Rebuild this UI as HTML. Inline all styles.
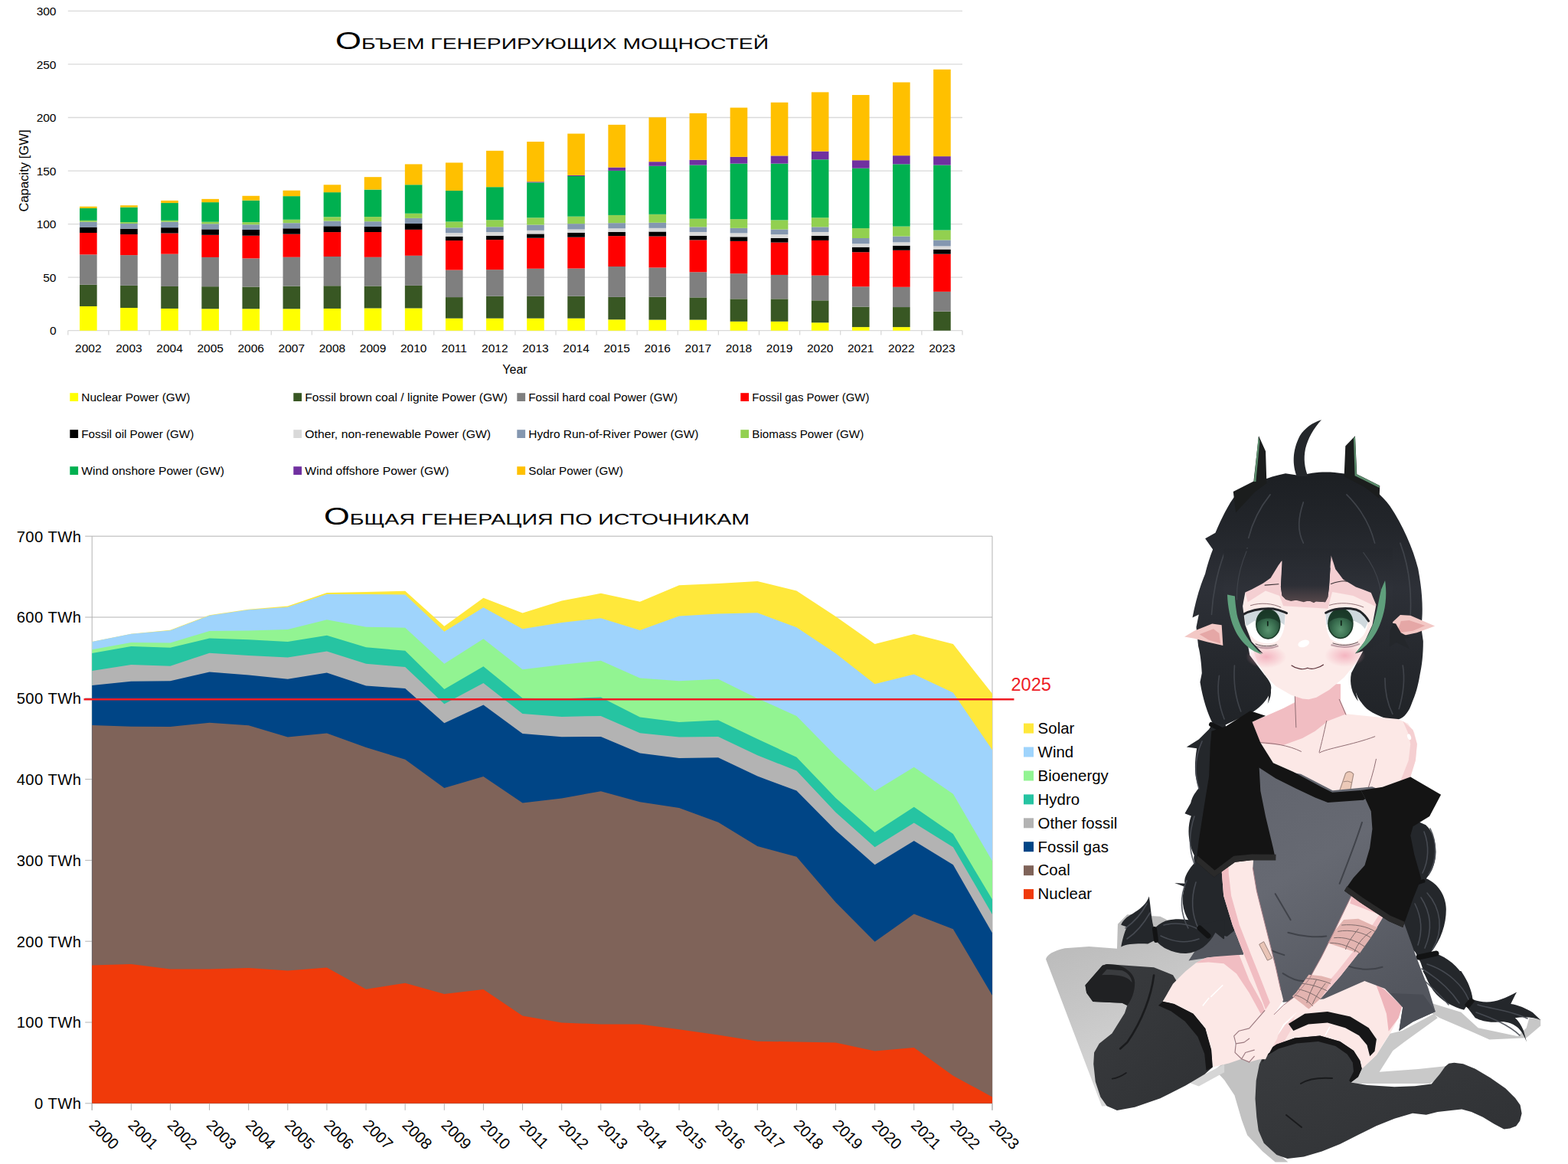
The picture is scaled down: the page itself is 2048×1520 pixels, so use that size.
<!DOCTYPE html>
<html><head><meta charset="utf-8"><title>chart</title>
<style>
html,body{margin:0;padding:0;background:#fff;}
body{width:2048px;height:1520px;position:relative;overflow:hidden;font-family:"Liberation Sans",sans-serif;}
svg{display:block}
</style></head><body>
<svg id="charts" width="2048" height="1520" viewBox="0 0 2048 1520" style="position:absolute;left:0;top:0">
<g font-family="Liberation Sans, sans-serif" fill="#000">
<line x1="88.8" y1="14.40" x2="1257" y2="14.40" stroke="#d9d9d9" stroke-width="1.3"/>
<text x="73.5" y="20.00" font-size="15.5" text-anchor="end">300</text>
<line x1="88.8" y1="83.95" x2="1257" y2="83.95" stroke="#d9d9d9" stroke-width="1.3"/>
<text x="73.5" y="89.55" font-size="15.5" text-anchor="end">250</text>
<line x1="88.8" y1="153.50" x2="1257" y2="153.50" stroke="#d9d9d9" stroke-width="1.3"/>
<text x="73.5" y="159.10" font-size="15.5" text-anchor="end">200</text>
<line x1="88.8" y1="223.05" x2="1257" y2="223.05" stroke="#d9d9d9" stroke-width="1.3"/>
<text x="73.5" y="228.65" font-size="15.5" text-anchor="end">150</text>
<line x1="88.8" y1="292.60" x2="1257" y2="292.60" stroke="#d9d9d9" stroke-width="1.3"/>
<text x="73.5" y="298.20" font-size="15.5" text-anchor="end">100</text>
<line x1="88.8" y1="362.15" x2="1257" y2="362.15" stroke="#d9d9d9" stroke-width="1.3"/>
<text x="73.5" y="367.75" font-size="15.5" text-anchor="end">50</text>
<line x1="88.8" y1="431.70" x2="1257" y2="431.70" stroke="#d9d9d9" stroke-width="1.3"/>
<text x="73.5" y="437.30" font-size="15.5" text-anchor="end">0</text>
<line x1="88.80" y1="431.7" x2="88.80" y2="437.5" stroke="#d9d9d9" stroke-width="1.3"/>
<line x1="141.90" y1="431.7" x2="141.90" y2="437.5" stroke="#d9d9d9" stroke-width="1.3"/>
<line x1="195.00" y1="431.7" x2="195.00" y2="437.5" stroke="#d9d9d9" stroke-width="1.3"/>
<line x1="248.10" y1="431.7" x2="248.10" y2="437.5" stroke="#d9d9d9" stroke-width="1.3"/>
<line x1="301.20" y1="431.7" x2="301.20" y2="437.5" stroke="#d9d9d9" stroke-width="1.3"/>
<line x1="354.30" y1="431.7" x2="354.30" y2="437.5" stroke="#d9d9d9" stroke-width="1.3"/>
<line x1="407.40" y1="431.7" x2="407.40" y2="437.5" stroke="#d9d9d9" stroke-width="1.3"/>
<line x1="460.50" y1="431.7" x2="460.50" y2="437.5" stroke="#d9d9d9" stroke-width="1.3"/>
<line x1="513.60" y1="431.7" x2="513.60" y2="437.5" stroke="#d9d9d9" stroke-width="1.3"/>
<line x1="566.70" y1="431.7" x2="566.70" y2="437.5" stroke="#d9d9d9" stroke-width="1.3"/>
<line x1="619.80" y1="431.7" x2="619.80" y2="437.5" stroke="#d9d9d9" stroke-width="1.3"/>
<line x1="672.90" y1="431.7" x2="672.90" y2="437.5" stroke="#d9d9d9" stroke-width="1.3"/>
<line x1="726.00" y1="431.7" x2="726.00" y2="437.5" stroke="#d9d9d9" stroke-width="1.3"/>
<line x1="779.10" y1="431.7" x2="779.10" y2="437.5" stroke="#d9d9d9" stroke-width="1.3"/>
<line x1="832.20" y1="431.7" x2="832.20" y2="437.5" stroke="#d9d9d9" stroke-width="1.3"/>
<line x1="885.30" y1="431.7" x2="885.30" y2="437.5" stroke="#d9d9d9" stroke-width="1.3"/>
<line x1="938.40" y1="431.7" x2="938.40" y2="437.5" stroke="#d9d9d9" stroke-width="1.3"/>
<line x1="991.50" y1="431.7" x2="991.50" y2="437.5" stroke="#d9d9d9" stroke-width="1.3"/>
<line x1="1044.60" y1="431.7" x2="1044.60" y2="437.5" stroke="#d9d9d9" stroke-width="1.3"/>
<line x1="1097.70" y1="431.7" x2="1097.70" y2="437.5" stroke="#d9d9d9" stroke-width="1.3"/>
<line x1="1150.80" y1="431.7" x2="1150.80" y2="437.5" stroke="#d9d9d9" stroke-width="1.3"/>
<line x1="1203.90" y1="431.7" x2="1203.90" y2="437.5" stroke="#d9d9d9" stroke-width="1.3"/>
<line x1="1257.00" y1="431.7" x2="1257.00" y2="437.5" stroke="#d9d9d9" stroke-width="1.3"/>
<rect x="104.05" y="399.96" width="22.6" height="31.74" fill="#ffff00"/>
<rect x="104.05" y="371.75" width="22.6" height="28.21" fill="#385723"/>
<rect x="104.05" y="332.41" width="22.6" height="39.34" fill="#7f7f7f"/>
<rect x="104.05" y="304.02" width="22.6" height="28.39" fill="#ff0000"/>
<rect x="104.05" y="296.60" width="22.6" height="7.42" fill="#000000"/>
<rect x="104.05" y="289.73" width="22.6" height="6.87" fill="#8497b0"/>
<rect x="104.05" y="287.88" width="22.6" height="1.86" fill="#92d050"/>
<rect x="104.05" y="271.92" width="22.6" height="15.96" fill="#00b050"/>
<rect x="104.05" y="269.69" width="22.6" height="2.23" fill="#ffc000"/>
<text x="115.35" y="459.6" font-size="15.5" text-anchor="middle">2002</text>
<rect x="157.15" y="402.00" width="22.6" height="29.70" fill="#ffff00"/>
<rect x="157.15" y="372.86" width="22.6" height="29.13" fill="#385723"/>
<rect x="157.15" y="333.15" width="22.6" height="39.71" fill="#7f7f7f"/>
<rect x="157.15" y="306.06" width="22.6" height="27.09" fill="#ff0000"/>
<rect x="157.15" y="298.64" width="22.6" height="7.42" fill="#000000"/>
<rect x="157.15" y="291.96" width="22.6" height="6.68" fill="#8497b0"/>
<rect x="157.15" y="290.10" width="22.6" height="1.86" fill="#92d050"/>
<rect x="157.15" y="270.62" width="22.6" height="19.48" fill="#00b050"/>
<rect x="157.15" y="268.21" width="22.6" height="2.41" fill="#ffc000"/>
<text x="168.45" y="459.6" font-size="15.5" text-anchor="middle">2003</text>
<rect x="210.25" y="402.92" width="22.6" height="28.78" fill="#ffff00"/>
<rect x="210.25" y="373.98" width="22.6" height="28.95" fill="#385723"/>
<rect x="210.25" y="331.67" width="22.6" height="42.31" fill="#7f7f7f"/>
<rect x="210.25" y="304.58" width="22.6" height="27.09" fill="#ff0000"/>
<rect x="210.25" y="297.15" width="22.6" height="7.42" fill="#000000"/>
<rect x="210.25" y="289.73" width="22.6" height="7.42" fill="#8497b0"/>
<rect x="210.25" y="287.88" width="22.6" height="1.86" fill="#92d050"/>
<rect x="210.25" y="265.05" width="22.6" height="22.82" fill="#00b050"/>
<rect x="210.25" y="261.90" width="22.6" height="3.15" fill="#ffc000"/>
<text x="221.55" y="459.6" font-size="15.5" text-anchor="middle">2004</text>
<rect x="263.35" y="403.30" width="22.6" height="28.40" fill="#ffff00"/>
<rect x="263.35" y="374.16" width="22.6" height="29.13" fill="#385723"/>
<rect x="263.35" y="335.94" width="22.6" height="38.23" fill="#7f7f7f"/>
<rect x="263.35" y="306.80" width="22.6" height="29.13" fill="#ff0000"/>
<rect x="263.35" y="299.38" width="22.6" height="7.42" fill="#000000"/>
<rect x="263.35" y="292.33" width="22.6" height="7.05" fill="#8497b0"/>
<rect x="263.35" y="289.73" width="22.6" height="2.60" fill="#92d050"/>
<rect x="263.35" y="264.12" width="22.6" height="25.61" fill="#00b050"/>
<rect x="263.35" y="259.86" width="22.6" height="4.27" fill="#ffc000"/>
<text x="274.65" y="459.6" font-size="15.5" text-anchor="middle">2005</text>
<rect x="316.45" y="403.30" width="22.6" height="28.40" fill="#ffff00"/>
<rect x="316.45" y="374.53" width="22.6" height="28.76" fill="#385723"/>
<rect x="316.45" y="337.42" width="22.6" height="37.11" fill="#7f7f7f"/>
<rect x="316.45" y="307.73" width="22.6" height="29.69" fill="#ff0000"/>
<rect x="316.45" y="299.94" width="22.6" height="7.79" fill="#000000"/>
<rect x="316.45" y="293.26" width="22.6" height="6.68" fill="#8497b0"/>
<rect x="316.45" y="290.10" width="22.6" height="3.15" fill="#92d050"/>
<rect x="316.45" y="261.71" width="22.6" height="28.39" fill="#00b050"/>
<rect x="316.45" y="255.77" width="22.6" height="5.94" fill="#ffc000"/>
<text x="327.75" y="459.6" font-size="15.5" text-anchor="middle">2006</text>
<rect x="369.55" y="403.30" width="22.6" height="28.40" fill="#ffff00"/>
<rect x="369.55" y="373.61" width="22.6" height="29.69" fill="#385723"/>
<rect x="369.55" y="335.75" width="22.6" height="37.85" fill="#7f7f7f"/>
<rect x="369.55" y="305.69" width="22.6" height="30.06" fill="#ff0000"/>
<rect x="369.55" y="298.27" width="22.6" height="7.42" fill="#000000"/>
<rect x="369.55" y="291.22" width="22.6" height="7.05" fill="#8497b0"/>
<rect x="369.55" y="286.76" width="22.6" height="4.45" fill="#92d050"/>
<rect x="369.55" y="256.14" width="22.6" height="30.62" fill="#00b050"/>
<rect x="369.55" y="248.72" width="22.6" height="7.42" fill="#ffc000"/>
<text x="380.85" y="459.6" font-size="15.5" text-anchor="middle">2007</text>
<rect x="422.65" y="402.92" width="22.6" height="28.78" fill="#ffff00"/>
<rect x="422.65" y="373.23" width="22.6" height="29.69" fill="#385723"/>
<rect x="422.65" y="335.01" width="22.6" height="38.23" fill="#7f7f7f"/>
<rect x="422.65" y="303.09" width="22.6" height="31.92" fill="#ff0000"/>
<rect x="422.65" y="295.30" width="22.6" height="7.79" fill="#000000"/>
<rect x="422.65" y="288.62" width="22.6" height="6.68" fill="#8497b0"/>
<rect x="422.65" y="283.24" width="22.6" height="5.38" fill="#92d050"/>
<rect x="422.65" y="251.13" width="22.6" height="32.10" fill="#00b050"/>
<rect x="422.65" y="241.30" width="22.6" height="9.83" fill="#ffc000"/>
<text x="433.95" y="459.6" font-size="15.5" text-anchor="middle">2008</text>
<rect x="475.75" y="402.50" width="22.6" height="29.20" fill="#ffff00"/>
<rect x="475.75" y="373.49" width="22.6" height="29.01" fill="#385723"/>
<rect x="475.75" y="335.79" width="22.6" height="37.70" fill="#7f7f7f"/>
<rect x="475.75" y="303.03" width="22.6" height="32.76" fill="#ff0000"/>
<rect x="475.75" y="295.92" width="22.6" height="7.11" fill="#000000"/>
<rect x="475.75" y="289.21" width="22.6" height="6.71" fill="#8497b0"/>
<rect x="475.75" y="283.09" width="22.6" height="6.12" fill="#92d050"/>
<rect x="475.75" y="247.57" width="22.6" height="35.53" fill="#00b050"/>
<rect x="475.75" y="231.18" width="22.6" height="16.38" fill="#ffc000"/>
<text x="487.05" y="459.6" font-size="15.5" text-anchor="middle">2009</text>
<rect x="528.85" y="402.50" width="22.6" height="29.20" fill="#ffff00"/>
<rect x="528.85" y="372.89" width="22.6" height="29.61" fill="#385723"/>
<rect x="528.85" y="333.81" width="22.6" height="39.08" fill="#7f7f7f"/>
<rect x="528.85" y="299.87" width="22.6" height="33.95" fill="#ff0000"/>
<rect x="528.85" y="291.97" width="22.6" height="7.89" fill="#000000"/>
<rect x="528.85" y="284.87" width="22.6" height="7.11" fill="#8497b0"/>
<rect x="528.85" y="278.75" width="22.6" height="6.12" fill="#92d050"/>
<rect x="528.85" y="241.25" width="22.6" height="37.50" fill="#00b050"/>
<rect x="528.85" y="214.41" width="22.6" height="26.84" fill="#ffc000"/>
<text x="540.15" y="459.6" font-size="15.5" text-anchor="middle">2010</text>
<rect x="581.95" y="415.72" width="22.6" height="15.98" fill="#ffff00"/>
<rect x="581.95" y="388.09" width="22.6" height="27.63" fill="#385723"/>
<rect x="581.95" y="352.56" width="22.6" height="35.53" fill="#7f7f7f"/>
<rect x="581.95" y="314.08" width="22.6" height="38.49" fill="#ff0000"/>
<rect x="581.95" y="308.75" width="22.6" height="5.33" fill="#000000"/>
<rect x="581.95" y="304.21" width="22.6" height="4.54" fill="#d9d9d9"/>
<rect x="581.95" y="297.30" width="22.6" height="6.91" fill="#8497b0"/>
<rect x="581.95" y="289.41" width="22.6" height="7.89" fill="#92d050"/>
<rect x="581.95" y="248.95" width="22.6" height="40.46" fill="#00b050"/>
<rect x="581.95" y="212.43" width="22.6" height="36.51" fill="#ffc000"/>
<text x="593.25" y="459.6" font-size="15.5" text-anchor="middle">2011</text>
<rect x="635.05" y="415.72" width="22.6" height="15.98" fill="#ffff00"/>
<rect x="635.05" y="386.71" width="22.6" height="29.01" fill="#385723"/>
<rect x="635.05" y="352.17" width="22.6" height="34.54" fill="#7f7f7f"/>
<rect x="635.05" y="313.09" width="22.6" height="39.08" fill="#ff0000"/>
<rect x="635.05" y="307.76" width="22.6" height="5.33" fill="#000000"/>
<rect x="635.05" y="303.03" width="22.6" height="4.74" fill="#d9d9d9"/>
<rect x="635.05" y="296.31" width="22.6" height="6.71" fill="#8497b0"/>
<rect x="635.05" y="287.24" width="22.6" height="9.08" fill="#92d050"/>
<rect x="635.05" y="244.21" width="22.6" height="43.03" fill="#00b050"/>
<rect x="635.05" y="196.84" width="22.6" height="47.37" fill="#ffc000"/>
<text x="646.35" y="459.6" font-size="15.5" text-anchor="middle">2012</text>
<rect x="688.15" y="415.72" width="22.6" height="15.98" fill="#ffff00"/>
<rect x="688.15" y="386.71" width="22.6" height="29.01" fill="#385723"/>
<rect x="688.15" y="350.79" width="22.6" height="35.92" fill="#7f7f7f"/>
<rect x="688.15" y="310.72" width="22.6" height="40.07" fill="#ff0000"/>
<rect x="688.15" y="305.39" width="22.6" height="5.33" fill="#000000"/>
<rect x="688.15" y="300.85" width="22.6" height="4.54" fill="#d9d9d9"/>
<rect x="688.15" y="293.55" width="22.6" height="7.30" fill="#8497b0"/>
<rect x="688.15" y="284.28" width="22.6" height="9.28" fill="#92d050"/>
<rect x="688.15" y="238.29" width="22.6" height="45.99" fill="#00b050"/>
<rect x="688.15" y="237.30" width="22.6" height="0.99" fill="#7030a0"/>
<rect x="688.15" y="185.00" width="22.6" height="52.30" fill="#ffc000"/>
<text x="699.45" y="459.6" font-size="15.5" text-anchor="middle">2013</text>
<rect x="741.25" y="415.72" width="22.6" height="15.98" fill="#ffff00"/>
<rect x="741.25" y="386.71" width="22.6" height="29.01" fill="#385723"/>
<rect x="741.25" y="350.59" width="22.6" height="36.12" fill="#7f7f7f"/>
<rect x="741.25" y="309.74" width="22.6" height="40.85" fill="#ff0000"/>
<rect x="741.25" y="303.81" width="22.6" height="5.92" fill="#000000"/>
<rect x="741.25" y="299.47" width="22.6" height="4.34" fill="#d9d9d9"/>
<rect x="741.25" y="292.17" width="22.6" height="7.30" fill="#8497b0"/>
<rect x="741.25" y="282.70" width="22.6" height="9.47" fill="#92d050"/>
<rect x="741.25" y="230.00" width="22.6" height="52.70" fill="#00b050"/>
<rect x="741.25" y="228.82" width="22.6" height="1.18" fill="#7030a0"/>
<rect x="741.25" y="174.54" width="22.6" height="54.28" fill="#ffc000"/>
<text x="752.55" y="459.6" font-size="15.5" text-anchor="middle">2014</text>
<rect x="794.35" y="417.30" width="22.6" height="14.40" fill="#ffff00"/>
<rect x="794.35" y="387.89" width="22.6" height="29.41" fill="#385723"/>
<rect x="794.35" y="348.02" width="22.6" height="39.87" fill="#7f7f7f"/>
<rect x="794.35" y="308.16" width="22.6" height="39.87" fill="#ff0000"/>
<rect x="794.35" y="302.83" width="22.6" height="5.33" fill="#000000"/>
<rect x="794.35" y="298.29" width="22.6" height="4.54" fill="#d9d9d9"/>
<rect x="794.35" y="291.18" width="22.6" height="7.11" fill="#8497b0"/>
<rect x="794.35" y="280.92" width="22.6" height="10.26" fill="#92d050"/>
<rect x="794.35" y="222.89" width="22.6" height="58.03" fill="#00b050"/>
<rect x="794.35" y="218.55" width="22.6" height="4.34" fill="#7030a0"/>
<rect x="794.35" y="162.89" width="22.6" height="55.66" fill="#ffc000"/>
<text x="805.65" y="459.6" font-size="15.5" text-anchor="middle">2015</text>
<rect x="847.45" y="417.61" width="22.6" height="14.09" fill="#ffff00"/>
<rect x="847.45" y="387.67" width="22.6" height="29.94" fill="#385723"/>
<rect x="847.45" y="349.45" width="22.6" height="38.22" fill="#7f7f7f"/>
<rect x="847.45" y="308.56" width="22.6" height="40.90" fill="#ff0000"/>
<rect x="847.45" y="302.47" width="22.6" height="6.09" fill="#000000"/>
<rect x="847.45" y="297.85" width="22.6" height="4.63" fill="#d9d9d9"/>
<rect x="847.45" y="290.79" width="22.6" height="7.06" fill="#8497b0"/>
<rect x="847.45" y="279.83" width="22.6" height="10.95" fill="#92d050"/>
<rect x="847.45" y="216.79" width="22.6" height="63.05" fill="#00b050"/>
<rect x="847.45" y="211.19" width="22.6" height="5.60" fill="#7030a0"/>
<rect x="847.45" y="153.25" width="22.6" height="57.94" fill="#ffc000"/>
<text x="858.75" y="459.6" font-size="15.5" text-anchor="middle">2016</text>
<rect x="900.55" y="417.61" width="22.6" height="14.09" fill="#ffff00"/>
<rect x="900.55" y="388.40" width="22.6" height="29.21" fill="#385723"/>
<rect x="900.55" y="355.30" width="22.6" height="33.11" fill="#7f7f7f"/>
<rect x="900.55" y="313.43" width="22.6" height="41.87" fill="#ff0000"/>
<rect x="900.55" y="307.83" width="22.6" height="5.60" fill="#000000"/>
<rect x="900.55" y="302.96" width="22.6" height="4.87" fill="#d9d9d9"/>
<rect x="900.55" y="296.39" width="22.6" height="6.57" fill="#8497b0"/>
<rect x="900.55" y="285.68" width="22.6" height="10.71" fill="#92d050"/>
<rect x="900.55" y="215.57" width="22.6" height="70.11" fill="#00b050"/>
<rect x="900.55" y="208.75" width="22.6" height="6.82" fill="#7030a0"/>
<rect x="900.55" y="147.90" width="22.6" height="60.86" fill="#ffc000"/>
<text x="911.85" y="459.6" font-size="15.5" text-anchor="middle">2017</text>
<rect x="953.65" y="419.81" width="22.6" height="11.89" fill="#ffff00"/>
<rect x="953.65" y="390.35" width="22.6" height="29.45" fill="#385723"/>
<rect x="953.65" y="357.24" width="22.6" height="33.11" fill="#7f7f7f"/>
<rect x="953.65" y="314.89" width="22.6" height="42.36" fill="#ff0000"/>
<rect x="953.65" y="309.29" width="22.6" height="5.60" fill="#000000"/>
<rect x="953.65" y="304.42" width="22.6" height="4.87" fill="#d9d9d9"/>
<rect x="953.65" y="297.85" width="22.6" height="6.57" fill="#8497b0"/>
<rect x="953.65" y="286.16" width="22.6" height="11.68" fill="#92d050"/>
<rect x="953.65" y="213.62" width="22.6" height="72.54" fill="#00b050"/>
<rect x="953.65" y="204.86" width="22.6" height="8.76" fill="#7030a0"/>
<rect x="953.65" y="140.59" width="22.6" height="64.26" fill="#ffc000"/>
<text x="964.95" y="459.6" font-size="15.5" text-anchor="middle">2018</text>
<rect x="1006.75" y="419.81" width="22.6" height="11.89" fill="#ffff00"/>
<rect x="1006.75" y="390.35" width="22.6" height="29.45" fill="#385723"/>
<rect x="1006.75" y="358.95" width="22.6" height="31.40" fill="#7f7f7f"/>
<rect x="1006.75" y="316.59" width="22.6" height="42.36" fill="#ff0000"/>
<rect x="1006.75" y="310.99" width="22.6" height="5.60" fill="#000000"/>
<rect x="1006.75" y="306.12" width="22.6" height="4.87" fill="#d9d9d9"/>
<rect x="1006.75" y="299.55" width="22.6" height="6.57" fill="#8497b0"/>
<rect x="1006.75" y="287.38" width="22.6" height="12.17" fill="#92d050"/>
<rect x="1006.75" y="213.62" width="22.6" height="73.76" fill="#00b050"/>
<rect x="1006.75" y="203.40" width="22.6" height="10.22" fill="#7030a0"/>
<rect x="1006.75" y="133.78" width="22.6" height="69.62" fill="#ffc000"/>
<text x="1018.05" y="459.6" font-size="15.5" text-anchor="middle">2019</text>
<rect x="1059.85" y="421.27" width="22.6" height="10.43" fill="#ffff00"/>
<rect x="1059.85" y="392.30" width="22.6" height="28.97" fill="#385723"/>
<rect x="1059.85" y="359.68" width="22.6" height="32.62" fill="#7f7f7f"/>
<rect x="1059.85" y="313.91" width="22.6" height="45.76" fill="#ff0000"/>
<rect x="1059.85" y="307.83" width="22.6" height="6.09" fill="#000000"/>
<rect x="1059.85" y="302.96" width="22.6" height="4.87" fill="#d9d9d9"/>
<rect x="1059.85" y="296.39" width="22.6" height="6.57" fill="#8497b0"/>
<rect x="1059.85" y="284.22" width="22.6" height="12.17" fill="#92d050"/>
<rect x="1059.85" y="208.27" width="22.6" height="75.95" fill="#00b050"/>
<rect x="1059.85" y="197.56" width="22.6" height="10.71" fill="#7030a0"/>
<rect x="1059.85" y="120.39" width="22.6" height="77.17" fill="#ffc000"/>
<text x="1071.15" y="459.6" font-size="15.5" text-anchor="middle">2020</text>
<rect x="1112.95" y="427.11" width="22.6" height="4.59" fill="#ffff00"/>
<rect x="1112.95" y="400.57" width="22.6" height="26.53" fill="#385723"/>
<rect x="1112.95" y="374.28" width="22.6" height="26.29" fill="#7f7f7f"/>
<rect x="1112.95" y="329.25" width="22.6" height="45.03" fill="#ff0000"/>
<rect x="1112.95" y="322.68" width="22.6" height="6.57" fill="#000000"/>
<rect x="1112.95" y="318.30" width="22.6" height="4.38" fill="#d9d9d9"/>
<rect x="1112.95" y="310.99" width="22.6" height="7.30" fill="#8497b0"/>
<rect x="1112.95" y="298.09" width="22.6" height="12.90" fill="#92d050"/>
<rect x="1112.95" y="219.71" width="22.6" height="78.38" fill="#00b050"/>
<rect x="1112.95" y="209.24" width="22.6" height="10.47" fill="#7030a0"/>
<rect x="1112.95" y="124.04" width="22.6" height="85.20" fill="#ffc000"/>
<text x="1124.25" y="459.6" font-size="15.5" text-anchor="middle">2021</text>
<rect x="1166.05" y="427.11" width="22.6" height="4.59" fill="#ffff00"/>
<rect x="1166.05" y="401.06" width="22.6" height="26.05" fill="#385723"/>
<rect x="1166.05" y="374.77" width="22.6" height="26.29" fill="#7f7f7f"/>
<rect x="1166.05" y="326.82" width="22.6" height="47.96" fill="#ff0000"/>
<rect x="1166.05" y="320.73" width="22.6" height="6.09" fill="#000000"/>
<rect x="1166.05" y="316.35" width="22.6" height="4.38" fill="#d9d9d9"/>
<rect x="1166.05" y="308.56" width="22.6" height="7.79" fill="#8497b0"/>
<rect x="1166.05" y="295.66" width="22.6" height="12.90" fill="#92d050"/>
<rect x="1166.05" y="214.35" width="22.6" height="81.30" fill="#00b050"/>
<rect x="1166.05" y="203.15" width="22.6" height="11.20" fill="#7030a0"/>
<rect x="1166.05" y="107.49" width="22.6" height="95.67" fill="#ffc000"/>
<text x="1177.35" y="459.6" font-size="15.5" text-anchor="middle">2022</text>
<rect x="1219.15" y="406.66" width="22.6" height="25.04" fill="#385723"/>
<rect x="1219.15" y="380.86" width="22.6" height="25.80" fill="#7f7f7f"/>
<rect x="1219.15" y="331.68" width="22.6" height="49.17" fill="#ff0000"/>
<rect x="1219.15" y="325.60" width="22.6" height="6.09" fill="#000000"/>
<rect x="1219.15" y="321.46" width="22.6" height="4.14" fill="#d9d9d9"/>
<rect x="1219.15" y="313.43" width="22.6" height="8.03" fill="#8497b0"/>
<rect x="1219.15" y="300.53" width="22.6" height="12.90" fill="#92d050"/>
<rect x="1219.15" y="215.57" width="22.6" height="84.96" fill="#00b050"/>
<rect x="1219.15" y="204.13" width="22.6" height="11.44" fill="#7030a0"/>
<rect x="1219.15" y="90.69" width="22.6" height="113.44" fill="#ffc000"/>
<text x="1230.45" y="459.6" font-size="15.5" text-anchor="middle">2023</text>
<text x="672.5" y="488.2" font-size="16" text-anchor="middle">Year</text>
<text transform="translate(36.8,223) rotate(-90)" font-size="15.6" text-anchor="middle" textLength="107" lengthAdjust="spacingAndGlyphs">Capacity [GW]</text>
<rect x="91.3" y="513.2" width="10.8" height="10.8" fill="#ffff00"/>
<text x="106.3" y="523.6" font-size="15.4" textLength="142.2" lengthAdjust="spacingAndGlyphs">Nuclear Power (GW)</text>
<rect x="383.3" y="513.2" width="10.8" height="10.8" fill="#385723"/>
<text x="398.3" y="523.6" font-size="15.4" textLength="264.7" lengthAdjust="spacingAndGlyphs">Fossil brown coal / lignite Power (GW)</text>
<rect x="675.3" y="513.2" width="10.8" height="10.8" fill="#7f7f7f"/>
<text x="690.3" y="523.6" font-size="15.4" textLength="194.7" lengthAdjust="spacingAndGlyphs">Fossil hard coal Power (GW)</text>
<rect x="967.3" y="513.2" width="10.8" height="10.8" fill="#ff0000"/>
<text x="982.3" y="523.6" font-size="15.4" textLength="153.1" lengthAdjust="spacingAndGlyphs">Fossil gas Power (GW)</text>
<rect x="91.3" y="561.2" width="10.8" height="10.8" fill="#000000"/>
<text x="106.3" y="571.6" font-size="15.4" textLength="146.9" lengthAdjust="spacingAndGlyphs">Fossil oil Power (GW)</text>
<rect x="383.3" y="561.2" width="10.8" height="10.8" fill="#d9d9d9"/>
<text x="398.3" y="571.6" font-size="15.4" textLength="242.8" lengthAdjust="spacingAndGlyphs">Other, non-renewable Power (GW)</text>
<rect x="675.3" y="561.2" width="10.8" height="10.8" fill="#8497b0"/>
<text x="690.3" y="571.6" font-size="15.4" textLength="222.2" lengthAdjust="spacingAndGlyphs">Hydro Run-of-River Power (GW)</text>
<rect x="967.3" y="561.2" width="10.8" height="10.8" fill="#92d050"/>
<text x="982.3" y="571.6" font-size="15.4" textLength="145.9" lengthAdjust="spacingAndGlyphs">Biomass Power (GW)</text>
<rect x="91.3" y="609.2" width="10.8" height="10.8" fill="#00b050"/>
<text x="106.3" y="619.6" font-size="15.4" textLength="186.6" lengthAdjust="spacingAndGlyphs">Wind onshore Power (GW)</text>
<rect x="383.3" y="609.2" width="10.8" height="10.8" fill="#7030a0"/>
<text x="398.3" y="619.6" font-size="15.4" textLength="188.1" lengthAdjust="spacingAndGlyphs">Wind offshore Power (GW)</text>
<rect x="675.3" y="609.2" width="10.8" height="10.8" fill="#ffc000"/>
<text x="690.3" y="619.6" font-size="15.4" textLength="123.4" lengthAdjust="spacingAndGlyphs">Solar Power (GW)</text>
</g>
<g font-family="Liberation Sans, sans-serif" fill="#000">
<line x1="111.2" y1="700.20" x2="1296.0" y2="700.20" stroke="#b3b3b3" stroke-width="1"/>
<text x="106.4" y="707.50" font-size="20.2" text-anchor="end" letter-spacing="0.45">700 TWh</text>
<line x1="111.2" y1="806.00" x2="1296.0" y2="806.00" stroke="#b3b3b3" stroke-width="1"/>
<text x="106.4" y="813.30" font-size="20.2" text-anchor="end" letter-spacing="0.45">600 TWh</text>
<line x1="111.2" y1="911.80" x2="1296.0" y2="911.80" stroke="#b3b3b3" stroke-width="1"/>
<text x="106.4" y="919.10" font-size="20.2" text-anchor="end" letter-spacing="0.45">500 TWh</text>
<line x1="111.2" y1="1017.60" x2="1296.0" y2="1017.60" stroke="#b3b3b3" stroke-width="1"/>
<text x="106.4" y="1024.90" font-size="20.2" text-anchor="end" letter-spacing="0.45">400 TWh</text>
<line x1="111.2" y1="1123.40" x2="1296.0" y2="1123.40" stroke="#b3b3b3" stroke-width="1"/>
<text x="106.4" y="1130.70" font-size="20.2" text-anchor="end" letter-spacing="0.45">300 TWh</text>
<line x1="111.2" y1="1229.20" x2="1296.0" y2="1229.20" stroke="#b3b3b3" stroke-width="1"/>
<text x="106.4" y="1236.50" font-size="20.2" text-anchor="end" letter-spacing="0.45">200 TWh</text>
<line x1="111.2" y1="1335.00" x2="1296.0" y2="1335.00" stroke="#b3b3b3" stroke-width="1"/>
<text x="106.4" y="1342.30" font-size="20.2" text-anchor="end" letter-spacing="0.45">100 TWh</text>
<line x1="111.2" y1="1440.80" x2="1296.0" y2="1440.80" stroke="#b3b3b3" stroke-width="1"/>
<text x="106.4" y="1448.10" font-size="20.2" text-anchor="end" letter-spacing="0.45">0 TWh</text>
<line x1="120.2" y1="700.2" x2="120.2" y2="1449.8" stroke="#b3b3b3" stroke-width="1"/>
<line x1="1296.0" y1="700.2" x2="1296.0" y2="1449.8" stroke="#b3b3b3" stroke-width="1"/>
<path d="M120.2,837.9 L171.3,827.7 L222.4,822.8 L273.6,803.3 L324.7,795.7 L375.8,791.6 L426.9,773.9 L478.1,772.9 L529.2,771.7 L580.3,817.7 L631.4,780.7 L682.5,800.4 L733.7,784.5 L784.8,774.8 L835.9,785.7 L887.0,764.2 L938.1,762.0 L989.3,758.9 L1040.4,771.5 L1091.5,805.1 L1142.6,841.1 L1193.8,828.1 L1244.9,841.1 L1296.0,905.8 L1296.0,1440.8 L120.2,1440.8 Z" fill="#ffe83b"/>
<path d="M120.2,837.9 L171.3,827.7 L222.4,823.2 L273.6,803.7 L324.7,796.3 L375.8,792.8 L426.9,776.0 L478.1,776.0 L529.2,776.4 L580.3,824.8 L631.4,793.3 L682.5,821.2 L733.7,813.0 L784.8,807.3 L835.9,822.9 L887.0,804.4 L938.1,801.6 L989.3,800.2 L1040.4,819.3 L1091.5,853.2 L1142.6,893.2 L1193.8,880.5 L1244.9,904.6 L1296.0,979.2 L1296.0,1440.8 L120.2,1440.8 Z" fill="#9fd4fc"/>
<path d="M120.2,848.2 L171.3,839.0 L222.4,839.6 L273.6,824.0 L324.7,823.6 L375.8,822.1 L426.9,809.2 L478.1,818.7 L529.2,819.7 L580.3,866.7 L631.4,834.3 L682.5,874.3 L733.7,867.9 L784.8,862.7 L835.9,885.4 L887.0,889.2 L938.1,886.8 L989.3,912.0 L1040.4,934.9 L1091.5,987.0 L1142.6,1033.0 L1193.8,1001.7 L1244.9,1036.8 L1296.0,1124.3 L1296.0,1440.8 L120.2,1440.8 Z" fill="#92f492"/>
<path d="M120.2,852.9 L171.3,844.1 L222.4,845.7 L273.6,833.6 L324.7,835.3 L375.8,837.9 L426.9,829.7 L478.1,845.3 L529.2,849.8 L580.3,899.9 L631.4,870.3 L682.5,911.7 L733.7,912.4 L784.8,910.5 L835.9,936.6 L887.0,943.0 L938.1,940.6 L989.3,965.0 L1040.4,988.7 L1091.5,1041.9 L1142.6,1087.0 L1193.8,1053.8 L1244.9,1088.9 L1296.0,1174.6 L1296.0,1440.8 L120.2,1440.8 Z" fill="#26c4a2"/>
<path d="M120.2,875.9 L171.3,868.1 L222.4,869.7 L273.6,852.7 L324.7,856.0 L375.8,858.4 L426.9,850.4 L478.1,866.8 L529.2,871.0 L580.3,919.3 L631.4,892.1 L682.5,931.9 L733.7,935.9 L784.8,934.9 L835.9,957.2 L887.0,962.6 L938.1,961.9 L989.3,986.3 L1040.4,1006.5 L1091.5,1060.7 L1142.6,1106.3 L1193.8,1074.5 L1244.9,1106.3 L1296.0,1193.9 L1296.0,1440.8 L120.2,1440.8 Z" fill="#b3b3b3"/>
<path d="M120.2,894.9 L171.3,889.8 L222.4,889.2 L273.6,877.5 L324.7,881.4 L375.8,886.7 L426.9,878.5 L478.1,895.4 L529.2,899.0 L580.3,944.2 L631.4,920.5 L682.5,957.9 L733.7,962.2 L784.8,961.9 L835.9,983.5 L887.0,989.9 L938.1,989.2 L989.3,1013.6 L1040.4,1032.5 L1091.5,1084.2 L1142.6,1129.3 L1193.8,1098.0 L1244.9,1129.3 L1296.0,1218.2 L1296.0,1440.8 L120.2,1440.8 Z" fill="#004586"/>
<path d="M120.2,947.0 L171.3,948.7 L222.4,948.9 L273.6,943.8 L324.7,947.2 L375.8,962.6 L426.9,957.5 L478.1,976.0 L529.2,991.7 L580.3,1029.0 L631.4,1014.0 L682.5,1048.4 L733.7,1042.5 L784.8,1033.2 L835.9,1047.2 L887.0,1055.0 L938.1,1073.7 L989.3,1104.9 L1040.4,1118.8 L1091.5,1178.2 L1142.6,1229.8 L1193.8,1193.4 L1244.9,1213.3 L1296.0,1299.7 L1296.0,1440.8 L120.2,1440.8 Z" fill="#7f6359"/>
<path d="M120.2,1260.5 L171.3,1259.0 L222.4,1265.5 L273.6,1265.5 L324.7,1264.0 L375.8,1267.5 L426.9,1263.5 L478.1,1291.8 L529.2,1283.8 L580.3,1298.0 L631.4,1292.0 L682.5,1326.5 L733.7,1335.5 L784.8,1337.5 L835.9,1337.5 L887.0,1344.2 L938.1,1351.4 L989.3,1359.7 L1040.4,1360.5 L1091.5,1361.4 L1142.6,1372.4 L1193.8,1368.0 L1244.9,1404.7 L1296.0,1432.4 L1296.0,1440.8 L120.2,1440.8 Z" fill="#f03a0a"/>
<line x1="120.20" y1="1440.8" x2="120.20" y2="1449.8" stroke="#b3b3b3" stroke-width="1"/>
<text transform="translate(115.20,1470.60) rotate(45)" font-size="20.4" letter-spacing="-0.2">2000</text>
<line x1="171.32" y1="1440.8" x2="171.32" y2="1449.8" stroke="#b3b3b3" stroke-width="1"/>
<text transform="translate(166.32,1470.60) rotate(45)" font-size="20.4" letter-spacing="-0.2">2001</text>
<line x1="222.44" y1="1440.8" x2="222.44" y2="1449.8" stroke="#b3b3b3" stroke-width="1"/>
<text transform="translate(217.44,1470.60) rotate(45)" font-size="20.4" letter-spacing="-0.2">2002</text>
<line x1="273.57" y1="1440.8" x2="273.57" y2="1449.8" stroke="#b3b3b3" stroke-width="1"/>
<text transform="translate(268.57,1470.60) rotate(45)" font-size="20.4" letter-spacing="-0.2">2003</text>
<line x1="324.69" y1="1440.8" x2="324.69" y2="1449.8" stroke="#b3b3b3" stroke-width="1"/>
<text transform="translate(319.69,1470.60) rotate(45)" font-size="20.4" letter-spacing="-0.2">2004</text>
<line x1="375.81" y1="1440.8" x2="375.81" y2="1449.8" stroke="#b3b3b3" stroke-width="1"/>
<text transform="translate(370.81,1470.60) rotate(45)" font-size="20.4" letter-spacing="-0.2">2005</text>
<line x1="426.93" y1="1440.8" x2="426.93" y2="1449.8" stroke="#b3b3b3" stroke-width="1"/>
<text transform="translate(421.93,1470.60) rotate(45)" font-size="20.4" letter-spacing="-0.2">2006</text>
<line x1="478.05" y1="1440.8" x2="478.05" y2="1449.8" stroke="#b3b3b3" stroke-width="1"/>
<text transform="translate(473.05,1470.60) rotate(45)" font-size="20.4" letter-spacing="-0.2">2007</text>
<line x1="529.17" y1="1440.8" x2="529.17" y2="1449.8" stroke="#b3b3b3" stroke-width="1"/>
<text transform="translate(524.17,1470.60) rotate(45)" font-size="20.4" letter-spacing="-0.2">2008</text>
<line x1="580.30" y1="1440.8" x2="580.30" y2="1449.8" stroke="#b3b3b3" stroke-width="1"/>
<text transform="translate(575.30,1470.60) rotate(45)" font-size="20.4" letter-spacing="-0.2">2009</text>
<line x1="631.42" y1="1440.8" x2="631.42" y2="1449.8" stroke="#b3b3b3" stroke-width="1"/>
<text transform="translate(626.42,1470.60) rotate(45)" font-size="20.4" letter-spacing="-0.2">2010</text>
<line x1="682.54" y1="1440.8" x2="682.54" y2="1449.8" stroke="#b3b3b3" stroke-width="1"/>
<text transform="translate(677.54,1470.60) rotate(45)" font-size="20.4" letter-spacing="-0.2">2011</text>
<line x1="733.66" y1="1440.8" x2="733.66" y2="1449.8" stroke="#b3b3b3" stroke-width="1"/>
<text transform="translate(728.66,1470.60) rotate(45)" font-size="20.4" letter-spacing="-0.2">2012</text>
<line x1="784.78" y1="1440.8" x2="784.78" y2="1449.8" stroke="#b3b3b3" stroke-width="1"/>
<text transform="translate(779.78,1470.60) rotate(45)" font-size="20.4" letter-spacing="-0.2">2013</text>
<line x1="835.90" y1="1440.8" x2="835.90" y2="1449.8" stroke="#b3b3b3" stroke-width="1"/>
<text transform="translate(830.90,1470.60) rotate(45)" font-size="20.4" letter-spacing="-0.2">2014</text>
<line x1="887.03" y1="1440.8" x2="887.03" y2="1449.8" stroke="#b3b3b3" stroke-width="1"/>
<text transform="translate(882.03,1470.60) rotate(45)" font-size="20.4" letter-spacing="-0.2">2015</text>
<line x1="938.15" y1="1440.8" x2="938.15" y2="1449.8" stroke="#b3b3b3" stroke-width="1"/>
<text transform="translate(933.15,1470.60) rotate(45)" font-size="20.4" letter-spacing="-0.2">2016</text>
<line x1="989.27" y1="1440.8" x2="989.27" y2="1449.8" stroke="#b3b3b3" stroke-width="1"/>
<text transform="translate(984.27,1470.60) rotate(45)" font-size="20.4" letter-spacing="-0.2">2017</text>
<line x1="1040.39" y1="1440.8" x2="1040.39" y2="1449.8" stroke="#b3b3b3" stroke-width="1"/>
<text transform="translate(1035.39,1470.60) rotate(45)" font-size="20.4" letter-spacing="-0.2">2018</text>
<line x1="1091.51" y1="1440.8" x2="1091.51" y2="1449.8" stroke="#b3b3b3" stroke-width="1"/>
<text transform="translate(1086.51,1470.60) rotate(45)" font-size="20.4" letter-spacing="-0.2">2019</text>
<line x1="1142.63" y1="1440.8" x2="1142.63" y2="1449.8" stroke="#b3b3b3" stroke-width="1"/>
<text transform="translate(1137.63,1470.60) rotate(45)" font-size="20.4" letter-spacing="-0.2">2020</text>
<line x1="1193.76" y1="1440.8" x2="1193.76" y2="1449.8" stroke="#b3b3b3" stroke-width="1"/>
<text transform="translate(1188.76,1470.60) rotate(45)" font-size="20.4" letter-spacing="-0.2">2021</text>
<line x1="1244.88" y1="1440.8" x2="1244.88" y2="1449.8" stroke="#b3b3b3" stroke-width="1"/>
<text transform="translate(1239.88,1470.60) rotate(45)" font-size="20.4" letter-spacing="-0.2">2022</text>
<line x1="1296.00" y1="1440.8" x2="1296.00" y2="1449.8" stroke="#b3b3b3" stroke-width="1"/>
<text transform="translate(1291.00,1470.60) rotate(45)" font-size="20.4" letter-spacing="-0.2">2023</text>
<line x1="109.5" y1="913.3" x2="1324.5" y2="913.3" stroke="#ee1c25" stroke-width="2.4"/>
<text x="1320.4" y="901.9" font-size="23.6" fill="#ee1c25">2025</text>
<rect x="1337" y="944.6" width="13" height="13" fill="#ffe83b"/>
<text x="1355.6" y="957.8" font-size="20.4" letter-spacing="0.05">Solar</text>
<rect x="1337" y="975.5" width="13" height="13" fill="#9fd4fc"/>
<text x="1355.6" y="988.7" font-size="20.4" letter-spacing="0.05">Wind</text>
<rect x="1337" y="1006.5" width="13" height="13" fill="#92f492"/>
<text x="1355.6" y="1019.7" font-size="20.4" letter-spacing="0.05">Bioenergy</text>
<rect x="1337" y="1037.4" width="13" height="13" fill="#26c4a2"/>
<text x="1355.6" y="1050.6" font-size="20.4" letter-spacing="0.05">Hydro</text>
<rect x="1337" y="1068.3" width="13" height="13" fill="#b3b3b3"/>
<text x="1355.6" y="1081.5" font-size="20.4" letter-spacing="0.05">Other fossil</text>
<rect x="1337" y="1099.2" width="13" height="13" fill="#004586"/>
<text x="1355.6" y="1112.5" font-size="20.4" letter-spacing="0.05">Fossil gas</text>
<rect x="1337" y="1130.2" width="13" height="13" fill="#7f6359"/>
<text x="1355.6" y="1143.4" font-size="20.4" letter-spacing="0.05">Coal</text>
<rect x="1337" y="1161.1" width="13" height="13" fill="#f03a0a"/>
<text x="1355.6" y="1174.3" font-size="20.4" letter-spacing="0.05">Nuclear</text>
</g>
<g font-family="Liberation Sans, sans-serif" fill="#000">
<text x="438" y="64" font-size="20.4" textLength="566" lengthAdjust="spacingAndGlyphs"><tspan font-size="31.5">О</tspan>БЪЕМ ГЕНЕРИРУЮЩИХ МОЩНОСТЕЙ</text>
<text x="423" y="685.4" font-size="20.4" textLength="556" lengthAdjust="spacingAndGlyphs"><tspan font-size="31">О</tspan>БЩАЯ ГЕНЕРАЦИЯ ПО ИСТОЧНИКАМ</text>
</g>
</svg>
<svg id="char" width="2048" height="1520" viewBox="0 0 2048 1520" style="position:absolute;left:0;top:0">
<defs>
<linearGradient id="shA" x1="0" y1="0" x2="0.35" y2="1"><stop offset="0" stop-color="#b6b6b6"/><stop offset="0.5" stop-color="#c6c6c6"/><stop offset="1" stop-color="#dadada"/></linearGradient>
<linearGradient id="bangG" gradientUnits="userSpaceOnUse" x1="0" y1="250" x2="0" y2="525"><stop offset="0" stop-color="#292c33"/><stop offset="0.5" stop-color="#2d2f36"/><stop offset="1" stop-color="#57484b"/></linearGradient>
<radialGradient id="irisG" cx="0.5" cy="0.7" r="0.62"><stop offset="0" stop-color="#5a9470"/><stop offset="0.5" stop-color="#3a6f50"/><stop offset="1" stop-color="#1e4030"/></radialGradient>
<radialGradient id="blushG" cx="0.5" cy="0.5" r="0.5"><stop offset="0" stop-color="#f2a7b6" stop-opacity="0.8"/><stop offset="1" stop-color="#f2a7b6" stop-opacity="0"/></radialGradient>
<linearGradient id="stockG" x1="0" y1="0" x2="1" y2="1"><stop offset="0" stop-color="#3a3c3f"/><stop offset="1" stop-color="#2f3134"/></linearGradient>
<linearGradient id="hairG" gradientUnits="userSpaceOnUse" x1="0" y1="240" x2="0" y2="1250"><stop offset="0" stop-color="#1c1f23"/><stop offset="0.2" stop-color="#22252a"/><stop offset="0.45" stop-color="#2d3037"/><stop offset="0.75" stop-color="#25282d"/><stop offset="1" stop-color="#202327"/></linearGradient>
<linearGradient id="hairF" gradientUnits="userSpaceOnUse" x1="0" y1="-10" x2="0" y2="930"><stop offset="0" stop-color="#22252a"/><stop offset="0.45" stop-color="#2e3138"/><stop offset="1" stop-color="#25282d"/></linearGradient>
<linearGradient id="dressG" gradientUnits="userSpaceOnUse" x1="800" y1="0" x2="1300" y2="900"><stop offset="0" stop-color="#62656e"/><stop offset="0.4" stop-color="#666972"/><stop offset="1" stop-color="#53565e"/></linearGradient>
</defs>

<!-- ===== shadows ===== -->
<g transform="translate(1366,1230) scale(0.16602)">
  <path fill="url(#shA)" d="M0,135 C10,100 60,70 150,50 L340,36 L560,52 L566,-140 L640,-215 L900,-200 L1300,0 L1300,200 L1000,500 L600,600 L400,900 L480,1290 L440,1292 Z"/>
</g>
<g transform="translate(1366,536) scale(0.33301) translate(0,1435.4)">
  <path fill="#c2c2c2" d="M663,1150 L700,1120 L870,1085 L840,1150 L825,1250 L840,1350 L880,1450 L950,1512 L900,1512 L850,1470 L790,1406 L768,1346 L740,1250 L700,1190 Z"/>
  <path fill="#d6d6d6" d="M560,1200 L700,1128 L700,1160 L600,1215 Z"/>
</g>
<g transform="translate(1630,1268) scale(0.18555)">
  <path fill="#c9c9c9" d="M1085,420 L1310,300 L1335,330 L1100,500 L1020,560 L925,710 L1200,690 L1390,670 L1330,765 L1280,792 L720,792 L800,690 L905,590 L1000,440 Z"/>
  <path fill="#c7c7c7" d="M1270,220 L1500,290 L1620,400 L1900,460 L1960,400 L1980,330 L2060,340 L2060,385 L1960,470 L1700,482 L1560,420 L1350,330 L1300,300 Z"/>
</g>

<g transform="translate(1366,536) scale(0.33301) translate(0,1435.4)"><path fill="#53565e" d="M780,540 L640,600 L560,722 L650,709 L775,700 Z"/></g>
<!-- ===== back hair (C coords) ===== -->
<g transform="translate(1366,536) scale(0.33301)">
<path fill="url(#hairG)" d="M745,330 C800,290 870,260 940,247 L1000,256 C1040,243 1100,236 1170,248 C1240,270 1300,310 1350,375 C1400,450 1440,540 1460,620 C1475,700 1482,780 1472,850 L1480,905 C1480,960 1475,1000 1467,1037 C1460,1080 1450,1115 1436,1146 C1425,1180 1405,1205 1384,1211 C1365,1215 1348,1212 1332,1207 C1305,1198 1285,1188 1267,1176 C1250,1162 1235,1145 1223,1124 C1212,1100 1207,1070 1206,1046 L1198,1030 L1240,950 L1290,800 L1290,650 L780,650 L770,800 L800,960 L860,1040 C880,1065 890,1080 880,1105 C868,1135 845,1160 815,1180 L700,1235 L655,1228 C635,1190 615,1130 605,1065 L612,1030 C610,990 605,950 598,925 L590,850 L600,800 L575,812 C585,760 600,700 625,640 C635,600 645,570 655,545 L625,502 L665,480 C690,420 715,370 745,330 Z"/>
<!-- small lock at jaw left / right -->
<path fill="#24272b" d="M860,1040 C885,1075 892,1110 870,1150 C880,1110 870,1080 845,1050 Z"/>
<path fill="#24272b" d="M1198,1030 C1190,1070 1200,1110 1225,1140 C1212,1100 1212,1070 1225,1040 Z"/>
<!-- left braid: segment 1 (beside sleeve) -->
<path fill="#24272b" d="M655,1225 L705,1232 L720,1500 L700,1800 L620,1800 C590,1790 575,1770 582,1745 C560,1700 552,1640 570,1590 L545,1580 L568,1540 C575,1510 590,1495 600,1480 C585,1440 580,1400 592,1325 L552,1320 L600,1290 L640,1250 Z"/>
<!-- segment 2 -->
<path fill="#24272b" d="M585,1772 C560,1800 540,1830 545,1855 L505,1853 L545,1868 C530,1910 535,1960 560,2000 C575,2015 595,2020 612,2022 L700,2060 L780,2080 L760,1900 L700,1780 Z"/>
<g transform="translate(0,1435.4)" fill="#24272b">
  <!-- segment 3 lying + tuft -->
  <path d="M610,580 C580,562 520,552 470,566 C450,574 435,585 425,597 L430,640 C450,670 500,695 550,694 C600,690 640,660 665,612 L700,640 L700,560 Z"/>
  <path d="M425,597 C415,570 412,520 405,470 C395,500 370,520 340,538 C320,548 300,565 295,582 L318,590 C308,610 300,640 295,668 C320,655 360,655 400,656 L432,640 Z"/>
  <!-- right braid along sleeve -->
  <path d="M1400,150 L1490,190 C1520,215 1535,270 1528,320 C1522,360 1505,385 1492,400 C1540,420 1570,470 1570,520 C1570,580 1550,640 1510,690 C1570,700 1625,750 1655,810 C1668,840 1668,865 1665,880 L1640,915 C1600,905 1550,880 1520,840 C1495,805 1480,760 1470,730 L1450,690 C1430,670 1405,630 1395,600 L1380,500 Z"/>
</g>
<!-- hair highlights -->
<g fill="none" stroke="#454950" stroke-width="5" stroke-linecap="round" opacity="0.85">
  <path d="M1010,360 C990,420 985,470 1010,520"/>
  <path d="M790,540 C760,600 745,680 750,770"/>
  <path d="M1390,520 C1420,600 1435,700 1430,800"/>
  <path d="M700,560 C670,640 655,720 650,800"/>
  <path d="M1330,1050 C1330,1100 1340,1150 1360,1190"/>
  <path d="M1400,1000 C1410,1060 1400,1120 1385,1170"/>
  <path d="M680,1040 C670,1100 680,1160 700,1210"/>
  <path d="M740,1000 C735,1070 745,1130 765,1180"/>
  <path d="M880,330 C840,380 810,440 795,500"/>
  <path d="M1180,330 C1230,380 1270,440 1290,520"/>
</g>
<!-- horns -->
<path fill="#1b1d1d" d="M735,318 L815,278 L835,100 L862,160 L866,285 L820,320 L745,400 Z"/>
<path fill="#5b8c6c" d="M834,102 L839,120 L824,279 L816,279 Z"/>
<path fill="#1b1d1d" d="M1175,140 L1213,100 L1220,250 L1310,295 L1308,345 L1250,300 L1170,258 Z"/>
<path fill="#5b8c6c" d="M1213,102 L1219,250 L1309,295 L1308,303 L1212,256 L1207,108 Z"/>
<!-- ahoge -->
<path fill="#24272b" d="M984,258 C968,215 965,160 996,100 C1015,70 1045,48 1081,37 C1050,70 1028,110 1018,150 C1010,190 1015,225 1028,258 Z"/>
</g>
<!-- right braid tuft (R coords) -->
<g transform="translate(1630,1268) scale(0.18555)" fill="#24272b">
  <path d="M1230,0 L1500,0 C1540,60 1575,130 1582,200 L1540,252 C1460,240 1380,190 1330,150 L1260,50 Z"/>
  <path d="M1540,252 L1582,200 C1640,225 1720,225 1780,200 C1820,185 1860,165 1892,148 C1875,180 1860,210 1850,232 C1900,238 1960,265 2005,292 L2060,345 C2020,330 1960,318 1880,330 C1905,350 1925,385 1940,420 L1962,500 C1945,455 1920,415 1895,395 C1860,365 1810,352 1760,358 C1700,365 1640,350 1600,330 Z"/>
  <rect x="1525" y="205" width="70" height="40" rx="10" transform="rotate(-50 1560 225)" fill="#141516"/>
</g>


<!-- braid details (absolute) -->
<g fill="none" stroke-linecap="round">
  <path stroke="#121314" stroke-width="5" d="M1847,1154.5 L1859,1150.5"/>
  <path stroke="#121314" stroke-width="7" d="M1853,1250 L1876,1245"/>
  <g stroke="#4a4e56" stroke-width="1.6" opacity="0.9">
    <path d="M1868,1082 C1877,1100 1877,1125 1866,1142"/>
    <path d="M1860,1086 C1867,1104 1866,1124 1858,1140"/>
    <path d="M1864,1166 C1882,1186 1886,1215 1871,1240"/>
    <path d="M1856,1172 C1869,1192 1871,1215 1861,1238"/>
    <path d="M1848,1180 C1857,1198 1858,1216 1852,1234"/>
    <path d="M1864,1259 C1892,1268 1911,1288 1918,1305"/>
    <path d="M1857,1265 C1879,1278 1896,1295 1906,1310"/>
    <path d="M1853,1274 C1869,1288 1882,1300 1892,1312"/>
    <path d="M1930,1312 C1950,1318 1975,1320 1995,1330"/>
    <path d="M1928,1322 C1950,1330 1970,1338 1985,1352"/>
    <!-- left braid -->
    <path d="M1570,968 C1560,990 1560,1010 1566,1030"/>
    <path d="M1560,1066 C1552,1090 1553,1110 1560,1128"/>
    <path d="M1550,1150 C1540,1172 1542,1194 1552,1212"/>
    <path d="M1562,1152 C1555,1174 1557,1196 1566,1214"/>
    <path d="M1520,1208 C1535,1204 1552,1206 1566,1214"/>
    <path d="M1516,1222 C1532,1230 1550,1232 1566,1226"/>
    <path d="M1498,1180 C1490,1195 1480,1205 1470,1212"/>
    <path d="M1502,1192 C1494,1206 1484,1218 1472,1226"/>
  </g>
  <!-- left braid ties -->
  <path stroke="#121314" stroke-width="6" d="M1582,946 L1594,952"/>
  <path stroke="#121314" stroke-width="7" d="M1567,1212 L1578,1222"/>
  <path stroke="#121314" stroke-width="6" d="M1508,1213 L1510,1228"/>
</g>
<!-- ===== ears (F coords) ===== -->
<g transform="translate(1560,700) scale(0.16602)">
  <path fill="#f3c8c5" d="M-78,792 L0,745 L140,690 L215,700 L225,862 L100,832 L0,806 Z"/>
  <path fill="#e5a7a6" d="M40,772 L150,730 L195,765 L205,845 L110,816 Z"/>
  <path fill="#f3c8c5" d="M1892,708 L1700,625 L1620,620 L1555,680 L1555,805 L1600,792 L1750,760 Z"/>
  <path fill="#e5a7a6" d="M1815,705 L1690,662 L1625,668 L1595,762 L1720,745 Z"/>
  <path fill="#24272b" d="M1540,680 L1585,690 L1625,760 L1700,800 L1650,805 L1692,888 L1590,835 L1535,870 Z"/>
</g>

<!-- ===== torso skin (T coords) ===== -->
<g transform="translate(1560,900) scale(0.16602)">
  <path fill="#fce8e6" d="M450,255 L560,212 L700,150 L790,100 L790,-40 L1150,-40 L1150,90 L1195,195 L1400,215 L1600,235 L1680,270 L1730,340 L1752,430 L1740,560 L1700,690 L1480,775 L1310,800 L1085,815 L1000,770 L780,650 L620,580 L520,420 Z"/>
  <path fill="#f1bdc2" d="M455,258 L560,212 L700,150 L790,105 L790,-40 L1150,-40 L1150,90 L1195,195 L1050,250 L950,330 L850,385 L700,440 L560,430 L520,420 Z"/>
  <path fill="#f5cfd1" d="M1640,250 L1720,320 L1752,430 L1740,560 L1700,690 L1620,725 L1685,560 L1700,430 L1680,340 Z"/>
  <g fill="none" stroke="#8f6c72" stroke-width="6" stroke-linecap="round">
    <path d="M790,30 L800,300"/>
    <path d="M1140,80 L1192,200"/>
    <path d="M520,420 C620,425 740,440 840,490"/>
    <path d="M985,500 C1040,465 1240,440 1420,372"/>
    <path d="M1040,250 C1020,340 1000,430 982,495"/>
    <path d="M1430,550 C1410,650 1380,740 1350,830"/>
  </g>
  <ellipse cx="1690" cy="375" rx="14" ry="24" fill="#fff" transform="rotate(-20 1690 375)"/>
  <path fill="#ecc9b8" stroke="#a48a80" stroke-width="7" d="M1140,805 L1190,662 Q1222,632 1252,668 L1225,805 Z"/>
  <path fill="none" stroke="#a48a80" stroke-width="6" d="M1172,728 Q1205,715 1240,735"/>
</g>

<!-- ===== left leg (L coords) ===== -->
<g transform="translate(1366,1230) scale(0.16602)">
  <path fill="url(#stockG)" d="M310,340 L445,185 L480,175 L850,200 L1000,260 L1030,310 L920,468 L1010,488 L1160,565 L1255,680 L1302,850 L1312,985 L1250,1040 L1100,1130 L900,1230 L700,1300 L560,1325 L480,1290 L430,1220 L390,1100 L375,960 L380,870 L420,800 L520,720 L620,560 L640,500 L600,480 L370,470 L320,400 Z"/>
  <path fill="#202123" d="M310,340 L445,185 L480,175 L560,180 C640,200 700,260 700,320 C700,400 670,460 640,500 L600,480 L370,470 L320,400 Z"/>
  <path fill="#3a3c3f" d="M440,260 L480,215 L600,225 C650,245 675,280 678,320 L660,300 C630,270 560,255 440,260 Z"/>
  <path fill="none" stroke="#1a1b1d" stroke-width="16" stroke-linecap="round" d="M850,262 C830,420 760,620 640,790 L585,840"/>
  <path fill="none" stroke="#1a1b1d" stroke-width="10" stroke-linecap="round" d="M522,1076 C560,1072 600,1052 632,1030"/>
  <!-- thigh -->
  <path fill="#fce8e6" d="M920,468 L1000,330 L1100,230 L1180,165 L1260,125 L1400,105 L1600,100 L1690,300 L1790,480 L1800,560 L1600,680 L1480,740 L1490,870 L1540,920 L1440,955 L1312,985 L1302,850 L1255,680 L1160,565 L1010,488 Z"/>
  <path fill="#f1bdc2" d="M1180,165 L1260,125 L1400,105 L1520,100 L1600,300 L1700,480 L1725,545 L1690,565 L1600,400 L1500,250 L1400,170 L1280,160 Z"/>
  <path fill="none" stroke="#fff" stroke-width="9" stroke-linecap="round" d="M1390,342 L1300,430 M1282,442 L1236,500"/>
  <path fill="#161617" d="M920,468 L1010,488 L1160,565 L1255,680 L1302,850 L1312,985 L1262,1012 L1248,880 L1195,745 L1095,625 L985,545 L885,500 Z"/>
</g>

<!-- ===== right leg (R coords) ===== -->
<g transform="translate(1630,1268) scale(0.18555)">
  <!-- thigh skin -->
  <path fill="#fce8e6" d="M150,540 L260,380 L400,230 L640,110 L900,50 L980,110 L1080,250 L1060,330 L1000,440 L960,500 L905,590 L800,690 L700,560 L400,480 Z"/>
  <path fill="#eeb4ba" d="M900,92 L960,130 L1085,250 L1060,330 L990,425 L975,300 L940,200 Z"/>
  <path fill="#f6d3d4" d="M150,540 L260,380 L330,320 L300,420 L240,520 Z"/>
  <path fill="none" stroke="#fff" stroke-width="8" stroke-linecap="round" d="M575,395 L545,450"/>
  <!-- garter -->
  <path fill="#161617" d="M285,372 L400,300 L560,285 L720,320 L850,400 L905,480 L892,565 L858,600 L838,522 L782,454 L685,400 L560,364 L425,374 L320,420 Z"/>
</g>
<!-- right stocking absolute coords -->
<g>
  <path fill="url(#stockG)" d="M1652,1374.3 L1644.9,1389.7 L1640.7,1411 L1639.5,1434.7 L1641.3,1458.4 L1643.7,1476.2 L1650.8,1492.7 L1667.4,1508.1 L1681.6,1512.9 L1702.9,1510.5 L1726.6,1503.4 L1750.2,1493.9 L1773.9,1482.1 L1797.6,1470.2 L1821.3,1460.8 L1845,1453.7 L1862.8,1455.8 L1877.6,1451.9 L1895.4,1449.9 L1909.2,1448.4 L1922,1451.9 L1936.8,1458.8 L1951.6,1467.7 L1964.4,1474.6 L1972.3,1473.6 L1980.2,1470.6 L1985.1,1463.7 L1987.6,1453.9 L1985.6,1443 L1979.2,1434.1 L1966.4,1421.3 L1946.7,1407.5 L1926.9,1395.7 L1911.1,1389.2 L1899.3,1387.8 L1892.4,1388.7 L1887.5,1392.7 L1880.6,1402.6 L1869.7,1415.4 L1848,1418.3 L1821.3,1419.3 L1785.8,1417 L1764.4,1413.4 L1773.9,1406.3 L1778.7,1395.6 L1776.3,1385 L1768,1372 L1750.2,1360.1 L1724.2,1352.4 L1691,1355.4 L1667.4,1363.7 Z"/>
  <path fill="#161617" d="M1652,1374.3 L1667.4,1363.7 L1691,1355.4 L1724.2,1352.4 L1750.2,1360.1 L1768,1372 L1776.3,1385 L1778.7,1395.6 L1773.9,1406.3 L1764.4,1413.4 L1762.1,1411 L1768,1399.2 L1766.8,1387.4 L1759.7,1376.7 L1744.3,1366 L1721.8,1360.1 L1693.4,1362.5 L1669.7,1369.6 L1654.3,1379.1 L1648.4,1387.4 Z"/>
  <path fill="none" stroke="#1a1b1d" stroke-width="2" stroke-linecap="round" d="M1699,1415 C1710,1408 1725,1407 1740,1408 M1680,1456 L1700,1472"/>
</g>


<!-- ===== dress (Z2 coords) ===== -->
<g transform="translate(1366,536) scale(0.33301) translate(0,1435.4)">
  <path fill="url(#dressG)" d="M830,-40 L1000,-10 L1125,55 L1280,40 L1330,60 L1400,560 L1450,700 L1500,830 L1528,922 L1440,962 L1385,998 L1400,905 L1330,832 L1250,802 L1090,872 L930,885 L860,700 L790,500 L800,100 Z"/>
  <path fill="#53565e" d="M700,636 L585,714 L650,707 L762,699 L745,600 Z"/>
  <path fill="#494c54" d="M1385,998 L1400,905 L1352,850 L1480,855 L1528,922 L1440,962 Z"/>
  
  <g fill="none" stroke="#40434a" stroke-width="6" stroke-linecap="round">
    <path d="M900,460 L960,562"/>
    <path d="M950,612 C1000,627 1060,632 1100,626"/>
    <path d="M1180,742 C1240,762 1290,757 1320,747"/>
    <path d="M930,772 C960,792 990,802 1010,802"/>
    <path d="M1240,180 C1215,260 1175,360 1152,420"/>
    <path d="M880,680 C900,690 920,695 935,700"/>
  </g>
</g>

<!-- ===== arms (A coords) ===== -->
<g transform="translate(1560,1130) scale(0.16602)">
  <!-- left arm -->
  <path fill="#fce8e6" d="M205,-80 L470,-120 L460,20 L490,200 L540,400 L590,600 L640,800 L680,980 L700,1060 L640,1150 L600,1200 L500,1300 L430,1285 L560,1135 L540,1080 L470,900 L390,700 L300,470 L230,240 Z"/>
  <path fill="#f1bdc2" d="M205,-80 L265,-90 L270,66 L290,240 L355,470 L445,700 L525,900 L595,1080 L560,1135 L540,1080 L470,900 L390,700 L300,470 L230,240 Z"/>
  <path fill="#e9c4b6" stroke="#9c857d" stroke-width="6" d="M510,622 L546,600 L612,730 L575,748 Z"/>
  <!-- right arm -->
  <path fill="#fce8e6" d="M1240,230 L1530,330 L1440,480 L1300,680 L1150,870 L1000,1040 L900,1130 L800,1160 L700,1250 L620,1400 L560,1525 L470,1525 L560,1350 L590,1200 L700,1100 L780,1040 L900,900 L1000,720 L1100,520 Z"/>
  <path fill="#f1bdc2" d="M1240,230 L1530,330 L1490,400 L1225,300 Z"/>
  <path fill="#f4c9cc" d="M1530,330 L1440,480 L1300,680 L1150,870 L1000,1040 L900,1130 L870,1110 L980,1000 L1120,840 L1270,650 L1400,470 L1480,350 Z"/>
  <!-- bandages -->
  <path fill="#e3b4b0" d="M1175,428 L1290,420 L1440,490 L1380,580 L1300,692 L1050,612 L1100,520 Z"/>
  <path fill="#e3b4b0" d="M900,860 L1000,870 L1085,895 L1000,1040 L900,1130 L770,1030 L800,1000 Z"/>
  <g stroke="#7e6a6a" stroke-width="6" fill="none" stroke-linecap="round">
    <path d="M1160,470 C1260,460 1360,480 1420,520"/>
    <path d="M1130,520 C1230,500 1330,530 1390,570"/>
    <path d="M1100,570 C1180,560 1270,590 1340,640"/>
    <path d="M1070,610 C1150,610 1230,640 1300,690"/>
    <path d="M1290,500 C1240,560 1200,620 1190,660"/>
    <path d="M1390,520 C1330,560 1280,620 1260,680"/>
    <path d="M880,890 C950,890 1020,910 1070,930"/>
    <path d="M850,930 C920,935 990,960 1040,985"/>
    <path d="M820,975 C880,985 950,1020 990,1050"/>
    <path d="M790,1020 C840,1030 900,1070 930,1105"/>
    <path d="M960,900 C930,960 900,1020 885,1080"/>
    <path d="M1030,930 C990,980 950,1040 930,1090"/>
  </g>
  <g stroke="#a98088" stroke-width="6" fill="none" stroke-linecap="round">
    <path d="M460,20 L490,200 L540,400 L590,600 L640,800 L680,980"/>
    <path d="M1240,230 L1100,520 L1000,720 L900,900 L780,1040 L700,1100 L600,1200"/>
  </g>
</g>
<!-- hands (L coords) -->
<g transform="translate(1366,1230) scale(0.16602)">
  <path fill="#fce8e6" d="M1722,540 L1600,680 L1520,700 L1480,740 L1495,800 L1488,870 L1540,920 L1600,945 L1690,920 L1760,870 L1820,760 L1860,600 Z"/>
  <g stroke="#9c7a80" stroke-width="7" fill="none" stroke-linecap="round" stroke-linejoin="round">
    <path d="M1722,540 L1600,680 L1520,700 L1480,740 L1495,800 L1488,870 L1540,920 L1600,945"/>
    <path d="M1495,800 L1560,790 L1600,760"/>
    <path d="M1540,920 L1570,870 L1640,850"/>
    <path d="M1600,945 L1640,900"/>
  </g>
</g>

<!-- ===== sleeves / collar (T coords) ===== -->
<g transform="translate(1560,900) scale(0.16602)" fill="#141414">
  <path d="M440,170 L560,210 L455,258 L520,420 L620,580 L780,650 L1000,770 L1085,812 L1310,795 L1345,862 L1330,872 L1050,892 L950,852 L800,782 L640,702 L510,617 L520,800 L560,1000 L620,1250 L640,1345 L450,1345 L320,1360 L155,1479 L15,1358 L35,1188 L80,900 L115,686 L125,450 L135,330 L250,290 Z"/>
  <path d="M1310,795 L1480,770 L1700,690 L1940,830 L1850,1000 L1720,1080 L1700,1150 L1730,1300 L1784,1489 L1720,1649 L1640,1874 L1530,1825 L1300,1675 L1180,1585 L1250,1485 L1340,1385 L1380,1250 L1400,1100 L1390,960 L1345,862 Z"/>
  <path fill="#2a2a2a" d="M15,1358 L155,1479 L320,1360 L450,1345 L640,1345 L642,1300 L450,1298 L310,1312 L160,1425 L25,1310 Z"/>
  <path fill="#2a2a2a" d="M1180,1585 L1300,1675 L1530,1825 L1640,1874 L1655,1830 L1540,1780 L1310,1630 L1200,1550 Z"/>
</g>

<!-- ===== face (F coords) ===== -->
<g transform="translate(1560,700) scale(0.16602)">
  <path fill="#fcebe9" d="M380,200 L1440,200 L1440,600 L1330,900 L1270,1000 L1180,1110 L1060,1210 L960,1270 L900,1285 L850,1280 L760,1250 L640,1180 L560,1100 L500,1000 L450,860 L385,700 Z"/>
  <path fill="#f3cccf" opacity="0.9" d="M400,440 L690,190 L690,470 L720,500 L1030,520 L1060,400 L1075,150 L1440,480 L1440,560 L1250,470 L1085,440 L1050,570 L700,550 L670,470 L560,430 L420,520 Z"/>
  <ellipse cx="565" cy="950" rx="160" ry="90" fill="url(#blushG)"/>
  <ellipse cx="1185" cy="940" rx="160" ry="90" fill="url(#blushG)"/>
  <!-- sclera -->
  <path fill="#ffffff" d="M392,625 C440,590 520,572 620,578 C670,585 700,600 714,620 C716,700 702,775 660,820 C620,852 540,858 470,810 C420,765 398,700 392,625 Z"/>
  <path fill="#ffffff" d="M1032,610 C1090,578 1180,565 1270,582 C1320,600 1350,640 1364,680 C1357,755 1322,805 1260,836 C1200,856 1120,850 1068,805 C1038,752 1028,680 1032,610 Z"/>
  <path fill="#cfd8dd" d="M392,625 C440,590 520,572 620,578 C670,585 700,600 714,620 L708,700 C660,655 560,645 470,668 L408,710 Z"/>
  <path fill="#cfd8dd" d="M1032,610 C1090,578 1180,565 1270,582 C1320,600 1350,640 1364,680 L1342,730 C1300,665 1200,645 1100,655 L1038,700 Z"/>
  <!-- iris -->
  <ellipse cx="580" cy="692" rx="93" ry="114" fill="url(#irisG)"/>
  <ellipse cx="1150" cy="688" rx="96" ry="116" fill="url(#irisG)"/>
  <path fill="#183626" opacity="0.8" d="M487,692 A93,114 0 0 1 673,692 C640,632 520,632 487,692 Z"/>
  <path fill="#183626" opacity="0.8" d="M1054,688 A96,116 0 0 1 1246,688 C1210,628 1090,628 1054,688 Z"/>
  <ellipse cx="580" cy="692" rx="93" ry="114" fill="none" stroke="#1c3c2a" stroke-width="10"/>
  <ellipse cx="1150" cy="688" rx="96" ry="116" fill="none" stroke="#1c3c2a" stroke-width="10"/>
  <rect x="572" y="668" width="10" height="42" rx="5" fill="#0e2017"/>
  <rect x="1150" y="662" width="10" height="44" rx="5" fill="#0e2017"/>
  <!-- lashes -->
  <path fill="none" stroke="#222428" stroke-width="18" stroke-linecap="round" d="M382,618 C440,585 520,566 620,572 C670,580 700,596 726,606"/>
  <path fill="none" stroke="#222428" stroke-width="18" stroke-linecap="round" d="M1034,604 C1090,573 1180,560 1270,578 C1320,596 1352,635 1370,668"/>
  <path fill="none" stroke="#7a585e" stroke-width="5" d="M440,547 C520,520 620,530 682,562"/>
  <path fill="none" stroke="#7a585e" stroke-width="5" d="M1060,545 C1140,518 1250,525 1332,560"/>
  <path fill="none" stroke="#8a6070" stroke-width="14" opacity="0.5" d="M465,862 C540,888 600,888 660,864"/>
  <path fill="none" stroke="#8a6070" stroke-width="14" opacity="0.5" d="M1075,856 C1160,882 1230,878 1300,848"/>
  <path fill="none" stroke="#3a2a30" stroke-width="5" d="M480,848 C540,872 600,870 648,852"/>
  <path fill="none" stroke="#3a2a30" stroke-width="5" d="M1088,842 C1160,866 1225,862 1288,834"/>
  <path fill="none" stroke="#3a3034" stroke-width="7" stroke-linecap="round" d="M555,386 L662,378"/>
  <path fill="none" stroke="#3a3034" stroke-width="7" stroke-linecap="round" d="M1075,376 C1120,360 1170,350 1200,356"/>
  <ellipse cx="860" cy="846" rx="46" ry="27" fill="#fff" transform="rotate(-18 860 846)"/>
  <path fill="none" stroke="#5a3038" stroke-width="7" stroke-linecap="round" d="M765,1018 C800,1045 860,1055 890,1038 C920,1052 980,1040 1015,1012"/>
  <!-- front hair -->
  <path fill="url(#hairF)" d="M230,100 L1560,100 L1560,700 L1500,820 L1400,880 L1265,925 L1340,830 L1400,700 L1430,540 L1390,445 L1270,400 L1170,340 L1110,260 L1075,150 L1060,400 L1050,480 L1030,520 L720,500 L690,470 L680,400 L690,190 L660,232 L600,330 L540,372 L450,420 L400,442 L380,550 L400,700 L450,830 L540,925 L440,880 L330,780 L260,620 L230,450 Z"/>
  <path fill="url(#bangG)" d="M690,250 L1070,250 L1060,400 L1050,480 L1030,520 L960,512 L940,525 L900,508 L860,520 L800,505 L760,512 L720,500 L690,470 L680,400 Z"/>
  <!-- green streaks -->
  <path fill="#5f9f7c" d="M259,461 C262,560 285,660 307,711 C330,770 360,810 378,829 C420,880 480,915 533,931 C490,890 455,850 438,829 C400,780 380,740 366,711 C345,660 333,620 331,592 C325,550 320,510 319,473 Z"/>
  <path fill="#5f9f7c" d="M1500,350 C1520,480 1500,620 1440,740 C1400,820 1340,880 1265,925 C1330,850 1380,770 1410,680 C1440,590 1450,500 1470,420 Z"/>
  <!-- strand lines on hair -->
  <g fill="none" stroke="#454950" stroke-width="7" stroke-linecap="round" opacity="0.8">
    <path d="M410,120 C360,240 330,380 335,500"/>
    <path d="M1330,130 C1400,220 1450,330 1465,430"/>
  </g>
</g>
</svg>

</body></html>
